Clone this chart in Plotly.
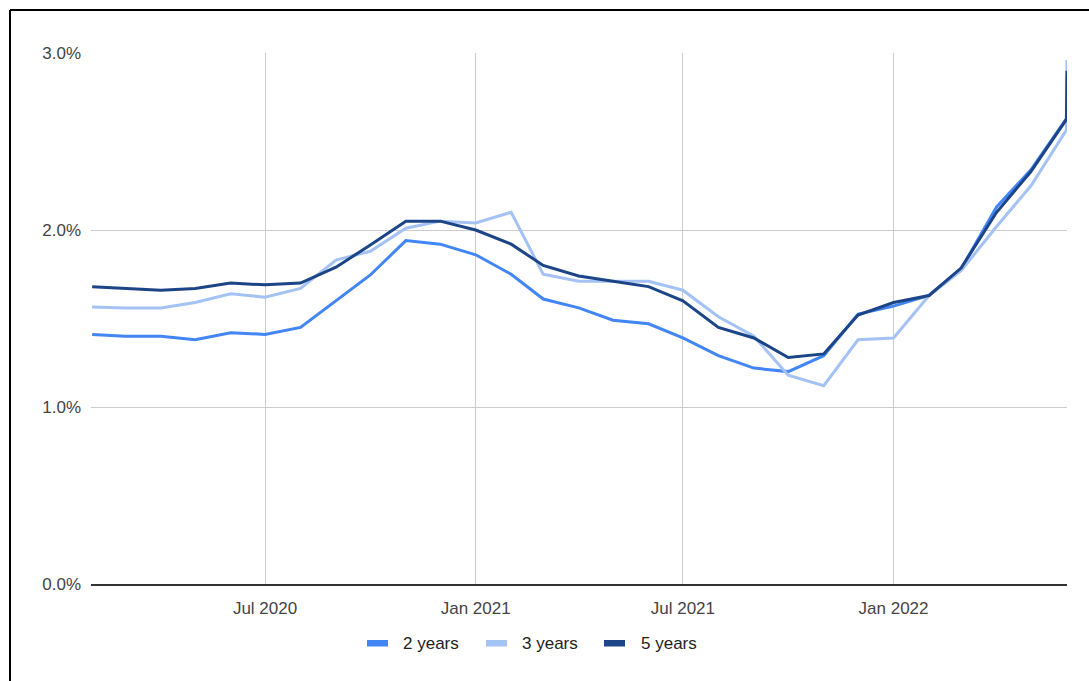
import plotly.graph_objects as go

# Monthly observation dates, plus one extra reading right after the last month
dates = [
    "2020-02-01", "2020-03-01", "2020-04-01", "2020-05-01", "2020-06-01", "2020-07-01",
    "2020-08-01", "2020-09-01", "2020-10-01", "2020-11-01", "2020-12-01", "2021-01-01",
    "2021-02-01", "2021-03-01", "2021-04-01", "2021-05-01", "2021-06-01", "2021-07-01",
    "2021-08-01", "2021-09-01", "2021-10-01", "2021-11-01", "2021-12-01", "2022-01-01",
    "2022-02-01", "2022-03-01", "2022-04-01", "2022-05-01", "2022-06-01", "2022-06-01 12:00",
]

# Rates in percent
two_years = [
    1.41, 1.40, 1.40, 1.38, 1.42, 1.41, 1.45, 1.60, 1.746, 1.94, 1.92, 1.86,
    1.75, 1.61, 1.56, 1.49, 1.47, 1.39, 1.29, 1.22, 1.20, 1.29, 1.525, 1.57,
    1.63, 1.78, 2.13, 2.34, 2.63, 2.88,
]
three_years = [
    1.565, 1.56, 1.56, 1.59, 1.64, 1.62, 1.67, 1.83, 1.88, 2.01, 2.05, 2.04,
    2.10, 1.75, 1.71, 1.71, 1.71, 1.66, 1.51, 1.40, 1.18, 1.12, 1.38, 1.39,
    1.63, 1.77, 2.02, 2.25, 2.565, 2.96,
]
five_years = [
    1.68, 1.67, 1.66, 1.67, 1.70, 1.69, 1.70, 1.79, 1.915, 2.05, 2.05, 2.00,
    1.92, 1.80, 1.74, 1.71, 1.68, 1.60, 1.45, 1.39, 1.28, 1.30, 1.52, 1.59,
    1.63, 1.785, 2.10, 2.33, 2.625, 2.90,
]

series_names = ["2 years", "3 years", "5 years"]
series_colors = ["#4285F4", "#A4C2F4", "#1C4587"]

x_tick_vals = ["2020-07-01", "2021-01-01", "2021-07-01", "2022-01-01"]
x_tick_text = ["Jul 2020", "Jan 2021", "Jul 2021", "Jan 2022"]
y_tick_vals = [0, 1, 2, 3]
y_tick_text = ["0.0%", "1.0%", "2.0%", "3.0%"]

FONT = "Arial, 'Liberation Sans', sans-serif"

fig = go.Figure()
for name, values, color in zip(series_names, [two_years, three_years, five_years], series_colors):
    fig.add_trace(go.Scatter(
        x=dates, y=values, name=name, mode="lines",
        line=dict(color=color, width=3),
        showlegend=False,
    ))

# Plot area in pixels: left 91, right 1067, top 53, bottom 584
W, H = 1089, 681
L, R, T, B = 91, 1067, 53, 584
pw, ph = R - L, B - T

def px_x(px):
    return (px - L) / pw

def px_y(py):
    return (B - py) / ph

shapes = [
    # outer frame (left and top edges)
    dict(type="line", xref="paper", yref="paper",
         x0=px_x(10), x1=px_x(10), y0=px_y(10), y1=px_y(700),
         line=dict(color="black", width=2)),
    dict(type="line", xref="paper", yref="paper",
         x0=px_x(10), x1=px_x(1100), y0=px_y(10), y1=px_y(10),
         line=dict(color="black", width=2)),
]
annotations = []

# Legend row below the plot: swatch + label per series
legend_swatch_left = [367, 486, 604]
legend_text_left = [401, 520, 639]
for name, color, sx, tx in zip(series_names, series_colors, legend_swatch_left, legend_text_left):
    shapes.append(dict(
        type="rect", xref="paper", yref="paper",
        x0=px_x(sx), x1=px_x(sx + 21), y0=px_y(646.5), y1=px_y(640),
        fillcolor=color, line=dict(width=0),
    ))
    annotations.append(dict(
        text=name, xref="paper", yref="paper",
        x=px_x(tx), y=px_y(643.5), xanchor="left", yanchor="middle",
        showarrow=False,
        font=dict(family=FONT, size=17, color="#222222"),
    ))

fig.update_layout(
    width=W, height=H,
    margin=dict(l=L, r=W - R, t=T, b=H - B, pad=0),
    paper_bgcolor="white", plot_bgcolor="white",
    font=dict(family=FONT, size=17, color="#444444"),
    showlegend=False,
    xaxis=dict(
        type="date",
        range=["2020-01-31", "2022-06-01 12:00"],
        tickvals=x_tick_vals, ticktext=x_tick_text,
        showgrid=True, gridcolor="#cccccc", gridwidth=1,
        showline=True, linecolor="#333333", linewidth=2,
        ticks="", ticklabelstandoff=8,
        tickfont=dict(family=FONT, size=17, color="#444444"),
        zeroline=False,
    ),
    yaxis=dict(
        range=[0, 3.0],
        tickvals=y_tick_vals, ticktext=y_tick_text,
        showgrid=True, gridcolor="#cccccc", gridwidth=1,
        zeroline=False, showline=False,
        ticks="", ticklabelstandoff=9,
        tickfont=dict(family=FONT, size=17, color="#444444"),
    ),
    shapes=shapes,
    annotations=annotations,
)

fig.write_html("out.html")
